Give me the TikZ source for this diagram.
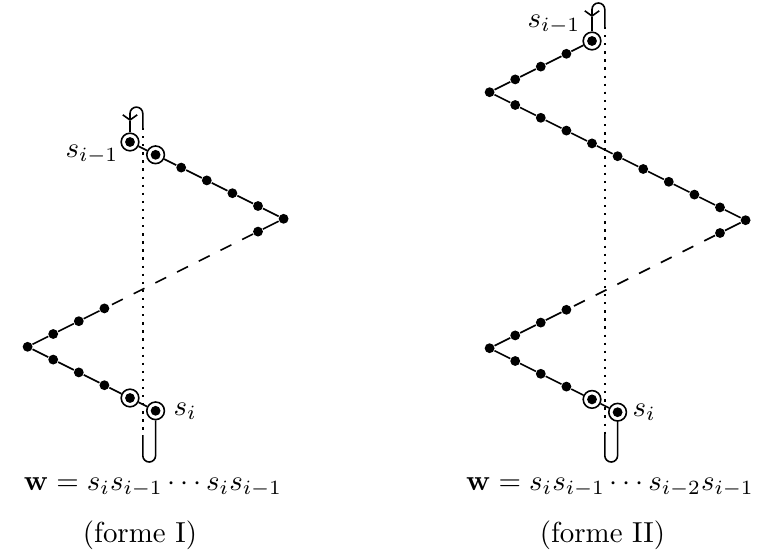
\documentclass[tikz,border=0pt]{standalone}
\usetikzlibrary{arrows.meta}
\begin{document}
\begin{tikzpicture}[x=0.346pt,y=-0.346pt,
  pt/.style={circle,fill,inner sep=0pt,minimum size=3.4pt},
  ringpt/.style={circle,draw,line width=0.55pt,inner sep=0pt,minimum size=6.1pt,
    path picture={\fill (path picture bounding box.center) circle (1.7pt);}},
  chain/.style={line width=0.55pt},
  dashseg/.style={line width=0.55pt,dash pattern=on 4.2pt off 4.2pt},
  axis/.style={line width=0.6pt,dash pattern=on 0.8pt off 2pt},
  hook/.style={line width=0.55pt},
  barb/.style={-{Straight Barb[length=1.8pt,width=5pt]}},
  lbl/.style={inner sep=0pt}]
\useasboundingbox (0,0) rectangle (768,551);

% ---------- forme I ----------
\node[ringpt] (L1) at (130,142) {};
\node[ringpt] (L2) at (155.6,154.8) {};
\node[pt] (L3) at (181.2,167.6) {};
\node[pt] (L4) at (206.8,180.4) {};
\node[pt] (L5) at (232.4,193.2) {};
\node[pt] (L6) at (258,206) {};
\node[pt] (L7) at (283.6,218.8) {};
\node[pt] (L8) at (258,231.6) {};
\node[pt] (L9) at (104.4,308.4) {};
\node[pt] (L10) at (78.8,321.2) {};
\node[pt] (L11) at (53.2,334) {};
\node[pt] (L12) at (27.6,346.8) {};
\node[pt] (L13) at (53.2,359.6) {};
\node[pt] (L14) at (78.8,372.4) {};
\node[pt] (L15) at (104.4,385.2) {};
\node[ringpt] (L16) at (130,398) {};
\node[ringpt] (L17) at (155.6,410.8) {};

\draw[chain] (L1)--(L2)--(L3)--(L4)--(L5)--(L6)--(L7)--(L8);
\draw[dashseg] (L8)--(L9);
\draw[chain] (L9)--(L10)--(L11)--(L12)--(L13)--(L14)--(L15)--(L16)--(L17);

\coordinate (LAt) at (142.8,128);
\coordinate (LAb) at (142.8,435);
\coordinate (LHa) at (130,121);
\draw[axis] (LAt)--(LAb);
\draw[hook,barb] (LAt) -- (142.8,113.5) arc[start angle=0,end angle=-180,radius=6.4] -- (LHa);
\draw[hook] (LHa) -- (L1);
\draw[hook] (L17) -- (155.6,455.6) arc[start angle=0,end angle=180,radius=6.4] -- (LAb);

\node[lbl,anchor=base east] (Lsa) at (119,157.5) {$s_{i-1}$};
\node[lbl,anchor=base west] (Lsb) at (173,415.5) {$s_i$};
\node[lbl,anchor=base] (LF) at (153,490) {$\mathbf{w}=s_is_{i-1}\cdots s_is_{i-1}$};
\node[lbl,anchor=base] (LC) at (140,542) {(forme I)};

% ---------- forme II ----------
\node[ringpt] (R1) at (592,41) {};
\node[pt] (R2) at (566.4,53.8) {};
\node[pt] (R3) at (540.8,66.6) {};
\node[pt] (R4) at (515.2,79.4) {};
\node[pt] (R5) at (489.6,92.2) {};
\node[pt] (R6) at (515.2,105) {};
\node[pt] (R7) at (540.8,117.8) {};
\node[pt] (R8) at (566.4,130.6) {};
\node[pt] (R9) at (592,143.4) {};
\node[pt] (R10) at (617.6,156.2) {};
\node[pt] (R11) at (643.2,169) {};
\node[pt] (R12) at (668.8,181.8) {};
\node[pt] (R13) at (694.4,194.6) {};
\node[pt] (R14) at (720,207.4) {};
\node[pt] (R15) at (745.6,220.2) {};
\node[pt] (R16) at (720,233) {};
\node[pt] (R17) at (566.4,309.8) {};
\node[pt] (R18) at (540.8,322.6) {};
\node[pt] (R19) at (515.2,335.4) {};
\node[pt] (R20) at (489.6,348.2) {};
\node[pt] (R21) at (515.2,361) {};
\node[pt] (R22) at (540.8,373.8) {};
\node[pt] (R23) at (566.4,386.6) {};
\node[ringpt] (R24) at (592,399.4) {};
\node[ringpt] (R25) at (617.6,412.2) {};

\draw[chain] (R1)--(R2)--(R3)--(R4)--(R5)--(R6)--(R7)--(R8)--(R9)--(R10)--(R11)--(R12)--(R13)--(R14)--(R15)--(R16);
\draw[dashseg] (R16)--(R17);
\draw[chain] (R17)--(R18)--(R19)--(R20)--(R21)--(R22)--(R23)--(R24)--(R25);

\coordinate (RAt) at (604.8,27);
\coordinate (RAb) at (604.8,434);
\coordinate (RHa) at (592,17);
\draw[axis] (RAt)--(RAb);
\draw[hook,barb] (RAt) -- (604.8,9.4) arc[start angle=0,end angle=-180,radius=6.4] -- (RHa);
\draw[hook] (RHa) -- (R1);
\draw[hook] (R25) -- (617.6,455.6) arc[start angle=0,end angle=180,radius=6.4] -- (RAb);

\node[lbl,anchor=base east] (Rsa) at (581,27.5) {$s_{i-1}$};
\node[lbl,anchor=base west] (Rsb) at (632,416) {$s_i$};
\node[lbl,anchor=base] (RF) at (610,490) {$\mathbf{w}=s_is_{i-1}\cdots s_{i-2}s_{i-1}$};
\node[lbl,anchor=base] (RC) at (602.5,542) {(forme II)};
\end{tikzpicture}
\end{document}
